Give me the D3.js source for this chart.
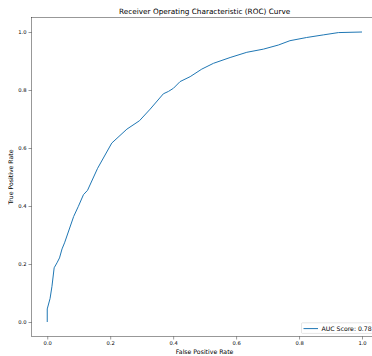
<!DOCTYPE html>
<html>
<head>
<meta charset="utf-8">
<script src="https://cdn.jsdelivr.net/npm/d3@7"></script>
<style>
  body { margin: 0; background: #fff; }
  svg { display: block; overflow: hidden; font-family: "DejaVu Sans", sans-serif; }
</style>
</head>
<body>
<svg width="372" height="356"></svg>
<script>
// ROC curve points
var fpr = [0, 0, 0.009, 0.015, 0.022, 0.031, 0.039, 0.047, 0.055, 0.084, 0.099, 0.115, 0.128, 0.16,
           0.205, 0.253, 0.293, 0.327, 0.369, 0.385, 0.401, 0.422, 0.454, 0.491, 0.528, 0.581,
           0.634, 0.687, 0.734, 0.771, 0.824, 0.877, 0.925, 1.0];
var tpr = [0, 0.045, 0.081, 0.123, 0.187, 0.204, 0.221, 0.252, 0.273, 0.364, 0.399, 0.439, 0.454, 0.53,
           0.617, 0.665, 0.694, 0.734, 0.787, 0.795, 0.806, 0.829, 0.846, 0.872, 0.892, 0.912,
           0.930, 0.941, 0.955, 0.970, 0.981, 0.990, 0.998, 1.0];
var ticks = [0, 0.2, 0.4, 0.6, 0.8, 1.0];
var aucLabel = "AUC Score: 0.78";

var svg = d3.select("svg");
var margin = {top: 17.5, left: 31.5, right: 377.75, bottom: 336.5};

var x = d3.scaleLinear().domain([-0.05, 1.05]).range([margin.left, margin.right]);
var y = d3.scaleLinear().domain([-0.05, 1.05]).range([margin.bottom, margin.top]);

var tickFs = 5.2, labelFs = 6.2;

// x axis
var xAxis = svg.append("g")
    .attr("transform", "translate(0," + margin.bottom + ")")
    .call(d3.axisBottom(x).tickValues(ticks).tickFormat(d3.format(".1f")).tickSize(3).tickPadding(2));
// y axis
var yAxis = svg.append("g")
    .attr("transform", "translate(" + margin.left + ",0)")
    .call(d3.axisLeft(y).tickValues(ticks).tickFormat(d3.format(".1f")).tickSize(3).tickPadding(2));

[xAxis, yAxis].forEach(function(a) {
  a.select(".domain").remove();
  a.selectAll("line").attr("stroke", "#000").attr("stroke-width", 0.4);
  a.selectAll("text").attr("font-family", "DejaVu Sans").attr("font-size", tickFs).attr("fill", "#000");
});

// frame
svg.append("rect")
    .attr("x", margin.left).attr("y", margin.top)
    .attr("width", margin.right - margin.left).attr("height", margin.bottom - margin.top)
    .attr("fill", "none").attr("stroke", "#000").attr("stroke-width", 0.4);

// curve
var pts = fpr.map(function(d, i) { return [d, tpr[i]]; });
svg.append("path")
    .datum(pts)
    .attr("fill", "none")
    .attr("stroke", "#1f77b4")
    .attr("stroke-width", 1)
    .attr("stroke-linejoin", "round")
    .attr("d", d3.line().x(function(d) { return x(d[0]); }).y(function(d) { return y(d[1]); }));

// title and labels
svg.append("text")
    .attr("x", (margin.left + margin.right) / 2).attr("y", 13.8)
    .attr("text-anchor", "middle").attr("font-size", 7.3)
    .text("Receiver Operating Characteristic (ROC) Curve");

svg.append("text")
    .attr("x", (margin.left + margin.right) / 2).attr("y", 354)
    .attr("text-anchor", "middle").attr("font-size", labelFs)
    .text("False Positive Rate");

svg.append("text")
    .attr("transform", "translate(13," + (margin.top + margin.bottom) / 2 + ") rotate(-90)")
    .attr("text-anchor", "middle").attr("font-size", labelFs)
    .text("True Positive Rate");

// legend, lower right
var lg = svg.append("g");
lg.append("rect")
    .attr("x", 301.5).attr("y", 322.8).attr("width", 74).attr("height", 10.6)
    .attr("rx", 1).attr("fill", "#fff").attr("fill-opacity", 0.8)
    .attr("stroke", "#ccc").attr("stroke-width", 0.5);
lg.append("line")
    .attr("x1", 303.5).attr("x2", 318).attr("y1", 328.6).attr("y2", 328.6)
    .attr("stroke", "#1f77b4").attr("stroke-width", 1);
lg.append("text")
    .attr("x", 321.5).attr("y", 330.6).attr("font-size", labelFs)
    .text(aucLabel);
</script>
</body>
</html>
